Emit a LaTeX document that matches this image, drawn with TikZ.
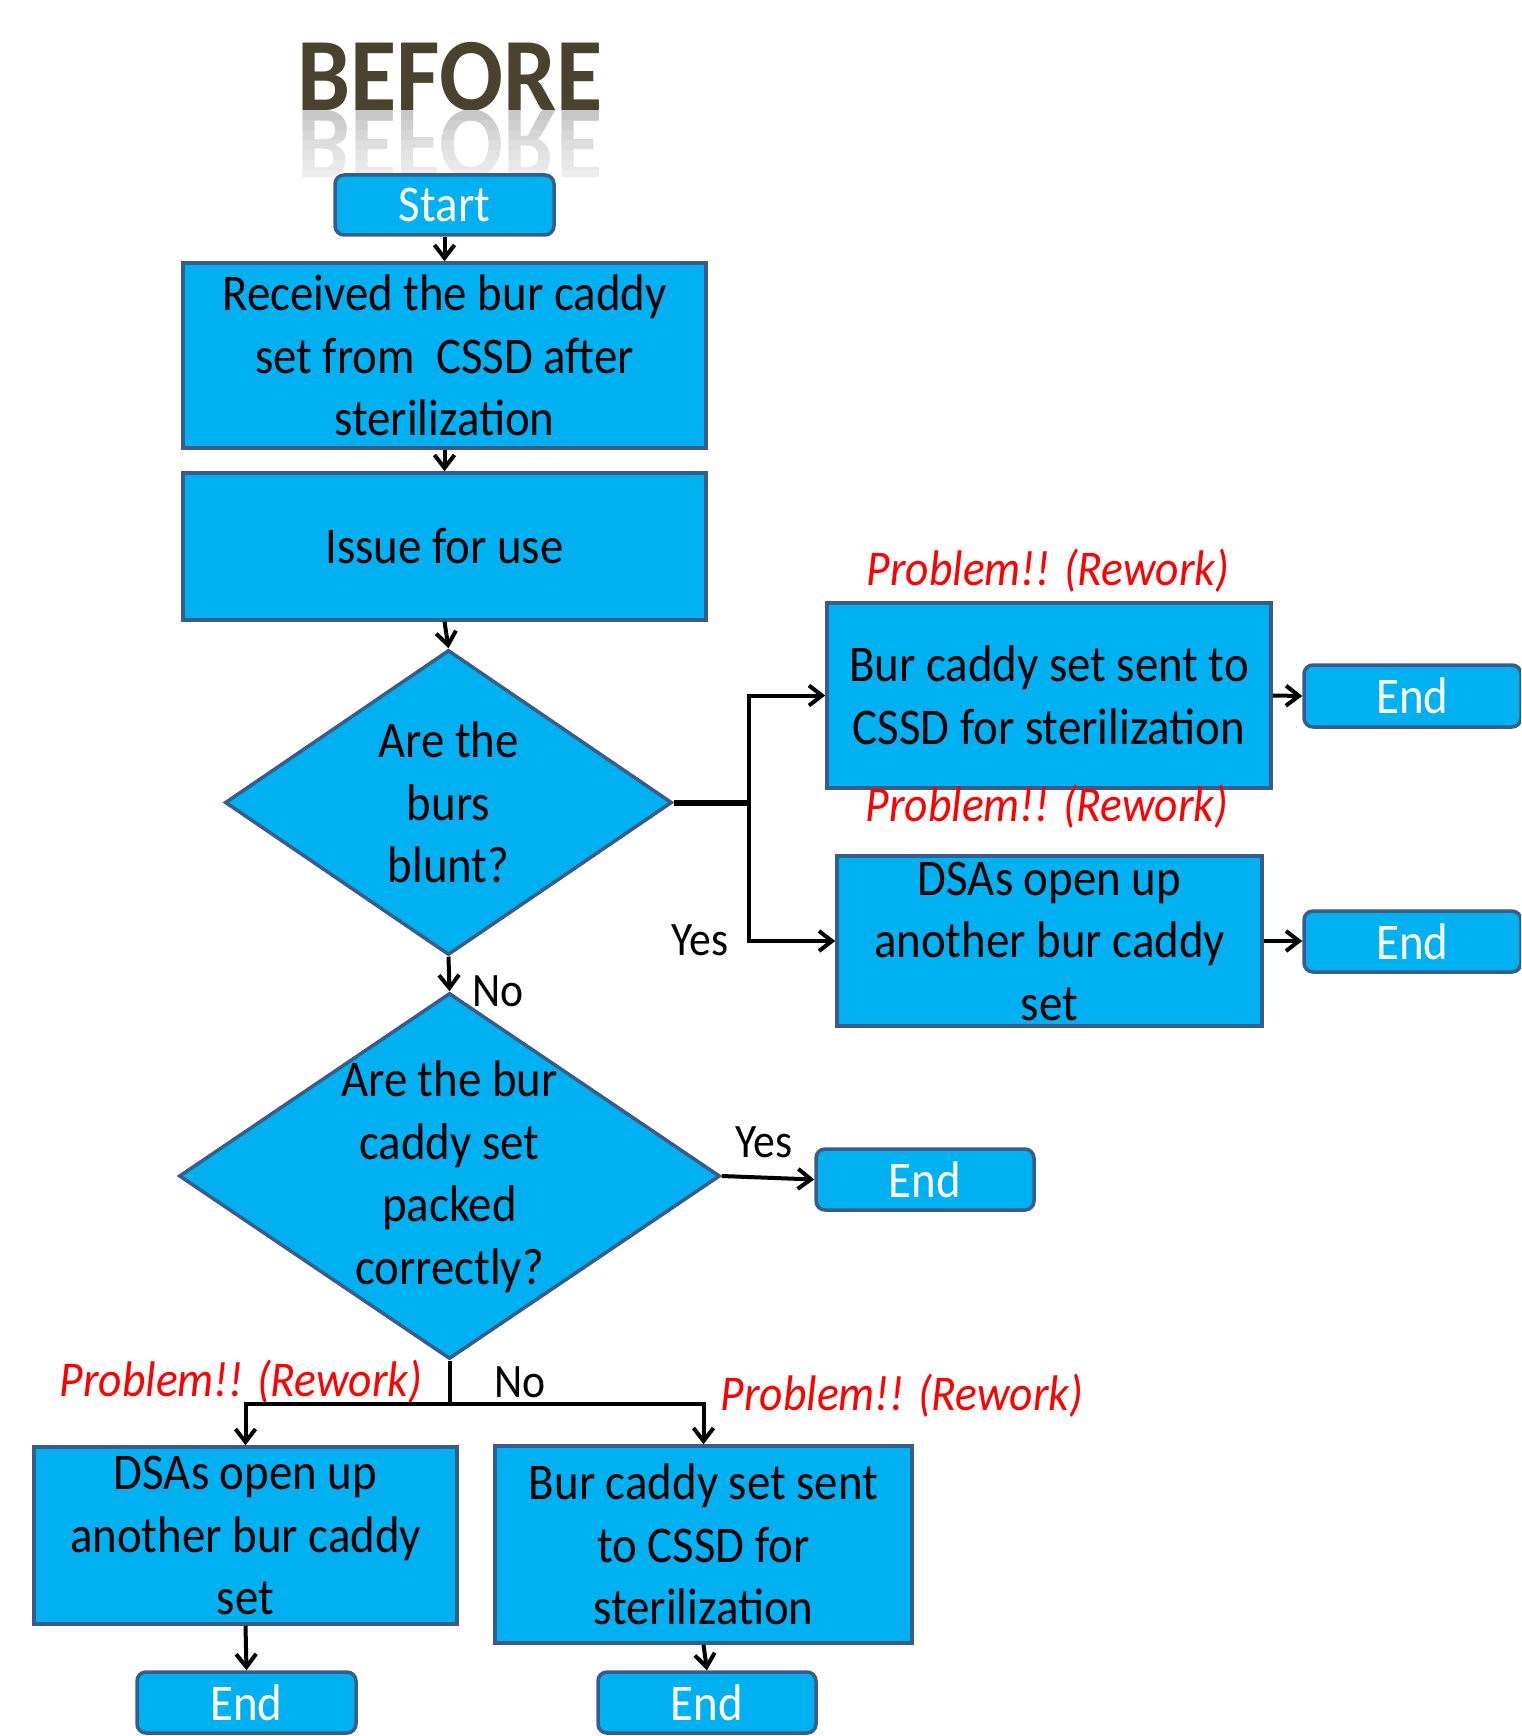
\documentclass[tikz,border=0pt]{standalone}
\usepackage{fontspec}
\setmainfont{Carlito}[FakeStretch=0.91]
\usetikzlibrary{shapes.geometric,arrows.meta}
\definecolor{boxblue}{RGB}{0,176,240}
\definecolor{boxedge}{RGB}{56,93,138}
\definecolor{titlecol}{RGB}{74,66,45}
\newcommand\bxfont{\fontsize{51.5}{62.5}\selectfont}
\newcommand\lblfont{\fontsize{48}{58}\selectfont}
\newcommand\probfont{\fontsize{50}{60}\selectfont\itshape}
\begin{document}
\begin{tikzpicture}[x=1pt,y=-1pt,
  proc/.style={rectangle,draw=boxedge,fill=boxblue,line width=3.5pt,align=center,inner sep=0pt,font=\bxfont,text=black},
  term/.style={proc,rounded corners=9pt,text=white},
  dia/.style={diamond,draw=boxedge,fill=boxblue,line width=3.5pt,inner sep=0pt},
  dtext/.style={align=center,inner sep=0pt,font=\bxfont,text=black},
  conn/.style={line width=4pt,black},
  arr/.style={conn,-{Straight Barb[length=13pt,width=20pt]}},
  lbl/.style={inner sep=0pt,font=\lblfont,text=black},
  prob/.style={inner sep=0pt,font=\probfont,text=red}]
\useasboundingbox (0,0) rectangle (1521,1736);
\clip (0,0) rectangle (1521,1736);
% title and reflection
\node[anchor=base,inner sep=0pt,text=titlecol,font=\fontsize{104}{104}\selectfont\bfseries] (title) at (450,111) {BEFORE};
\foreach \i/\c in {0/22,1/19,2/16,3/13,4/11,5/9,6/7,7/5,8/3}{
  \begin{scope}
    \clip (250,{111+\i*10}) rectangle (650,{121+\i*10});
    \node[anchor=base,inner sep=0pt,yscale=-1,transform shape,text=black!\c,font=\fontsize{104}{104}\selectfont\bfseries] at (450,111) {BEFORE};
  \end{scope}
}
% nodes
\node[term,minimum width=219pt,minimum height=60pt] (start) at (444.5,205) {Start};
\node[proc,minimum width=523pt,minimum height=185pt] (b1) at (444.5,355.5) {Received the bur caddy\\set from\ \ CSSD after\\sterilization};
\node[proc,minimum width=523pt,minimum height=147pt] (b2) at (444.5,546.5) {Issue for use};
\node[dia,minimum width=447pt,minimum height=305pt] (d1) at (448.5,802.5) {};
\node[dtext] (d1t) at (448.5,802.5) {Are the\\burs\\blunt?};
\node[proc,minimum width=444pt,minimum height=185pt] (r1) at (1049,695.5) {Bur caddy set sent to\\CSSD for sterilization};
\node[proc,minimum width=425pt,minimum height=170pt] (r2) at (1049.5,941) {DSAs open up\\another bur caddy\\set};
\node[term,minimum width=217pt,minimum height=62pt] (er1) at (1412.5,696) {End};
\node[term,minimum width=217pt,minimum height=61pt] (er2) at (1412.5,941.5) {End};
\node[dia,minimum width=541pt,minimum height=366pt] (d2) at (449.5,1176) {};
\node[dtext] (d2t) at (449.5,1177) {Are the bur\\caddy set\\packed\\correctly?};
\node[term,minimum width=218pt,minimum height=61pt] (em) at (925,1179.5) {End};
\node[proc,minimum width=423pt,minimum height=177pt] (bl) at (245.5,1535.5) {DSAs open up\\another bur caddy\\set};
\node[proc,minimum width=417pt,minimum height=197pt] (br) at (703.5,1544.5) {Bur caddy set sent\\to CSSD for\\sterilization};
\node[term,minimum width=219pt,minimum height=61pt] (ebl) at (246.5,1702.5) {End};
\node[term,minimum width=218pt,minimum height=61pt] (ebr) at (707,1702.5) {End};
% labels
\node[prob] (p1) at (1048,571) {Problem!! (Rework)};
\node[prob] (p2) at (1047,807) {Problem!! (Rework)};
\node[prob] (p3) at (241,1382) {Problem!! (Rework)};
\node[prob] (p4) at (902,1396) {Problem!! (Rework)};
\node[lbl] (yes1) at (700,940) {Yes};
\node[lbl] (no1) at (498,991) {No};
\node[lbl] (yes2) at (764,1142) {Yes};
\node[lbl] (no2) at (520,1382) {No};
% connectors
\draw[arr] (start.south) -- (b1.north);
\draw[arr] (b1.south) -- (b2.north);
\draw[arr] (b2.south) -- (d1.north);
\coordinate (j1) at (749,802.5);
\draw[conn,line width=6pt] (d1.east) -- (j1);
\draw[arr] (j1) |- (r1.west);
\draw[arr] (j1) |- (r2.west);
\draw[arr] (r1.east) -- (er1.west);
\draw[arr] (r2.east) -- (r2.east -| er2.west);
\draw[arr] (d1.south) -- (d2.north);
\draw[arr] (d2.east) -- (em.west);
\coordinate (j2) at (449.5,1404);
\draw[conn] (d2.south) -- (j2);
\draw[arr] (j2) -| (bl.north);
\draw[arr] (j2) -| (br.north);
\draw[arr] (bl.south) -- (ebl.north);
\draw[arr] (br.south) -- (ebr.north);
\end{tikzpicture}
\end{document}
